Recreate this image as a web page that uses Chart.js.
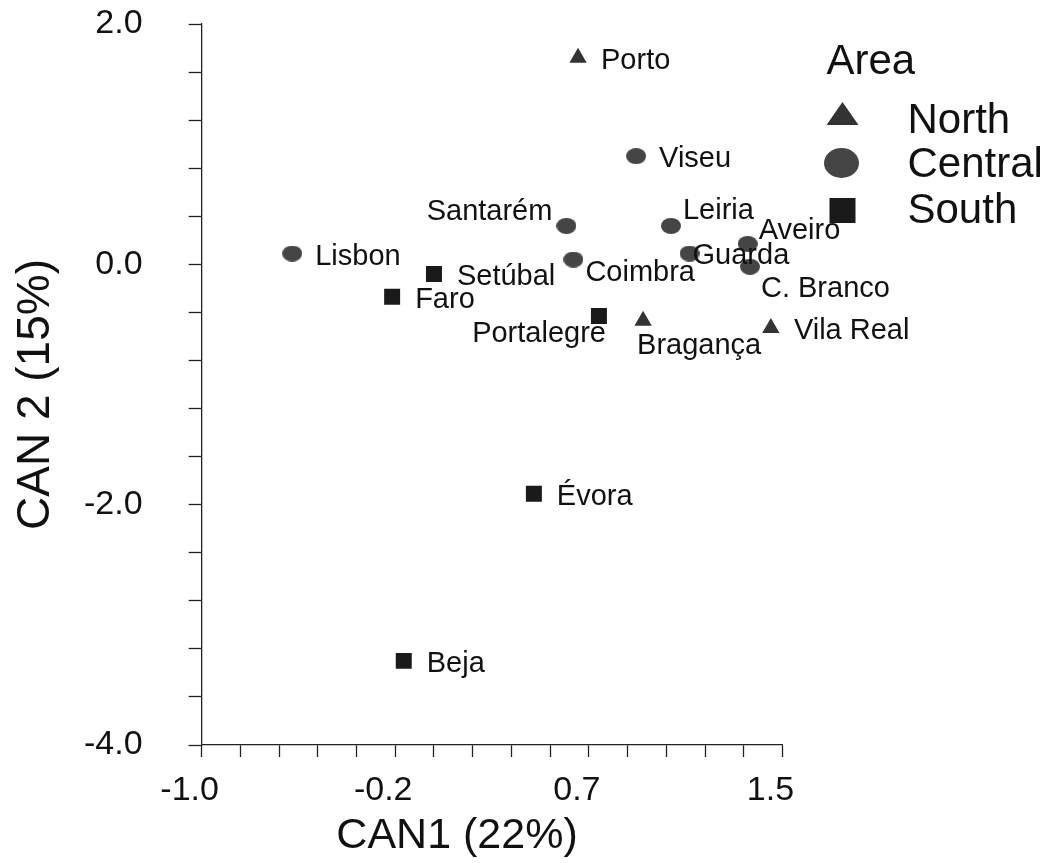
<!DOCTYPE html>
<html lang="en">
<head>
    <meta charset="UTF-8">
    <title>CAN1 / CAN2</title>
    <script src="https://cdn.jsdelivr.net/npm/chart.js"></script>
    <style>
        body { margin: 0; background: #fff; }
        #wrap { width: 1050px; height: 863px; }
    </style>
</head>
<body>
    <div id="wrap"><canvas id="graphique" width="1050" height="863"></canvas></div>

    <script>
        // scores, one group per area
        const northNames = ['Porto', 'Bragança', 'Vila Real'];
        const northCan1 = [0.62, 0.90, 1.45];
        const northCan2 = [1.72, -0.47, -0.53];

        const centralNames = ['Viseu', 'Santarém', 'Leiria', 'Aveiro', 'Guarda', 'C. Branco', 'Lisbon', 'Coimbra'];
        const centralCan1 = [0.87, 0.57, 1.02, 1.35, 1.10, 1.36, -0.61, 0.60];
        const centralCan2 = [0.90, 0.32, 0.32, 0.17, 0.09, -0.02, 0.09, 0.04];

        const southNames = ['Setúbal', 'Faro', 'Portalegre', 'Évora', 'Beja'];
        const southCan1 = [0.00, -0.18, 0.71, 0.43, -0.13];
        const southCan2 = [-0.08, -0.27, -0.43, -1.91, -3.30];

        // axis ticks (the x ones are thirds of the range, printed rounded)
        const xTicks = [-1.0, -0.8333, -0.6667, -0.5, -0.3333, -0.1667, 0.0, 0.1667, 0.3333, 0.5, 0.6667, 0.8333, 1.0, 1.1667, 1.3333, 1.5];
        const xMajor = [-1.0, -0.1667, 0.6667, 1.5];
        const xMajorLabels = ['-1.0', '-0.2', '0.7', '1.5'];
        const yTicks = [-4.0, -3.6, -3.2, -2.8, -2.4, -2.0, -1.6, -1.2, -0.8, -0.4, 0.0, 0.4, 0.8, 1.2, 1.6, 2.0];
        const yMajor = [-4.0, -2.0, 0.0, 2.0];
        const yMajorLabels = ['-4.0', '-2.0', '0.0', '2.0'];

        const areaNames = ['North', 'Central', 'South'];
        const xTitle = 'CAN1 (22%)';
        const yTitle = 'CAN 2 (15%)';

        const FONT = '"Liberation Sans", Arial, Helvetica, sans-serif';
        const INK = '#111';
        const AXIS = '#222';
        const colTri = '#333333';
        const colDot = '#454545';
        const colSq = '#1a1a1a';

        Chart.defaults.font.family = FONT;
        Chart.defaults.color = INK;

        function points(names, xs, ys) {
            return names.map((n, i) => ({ x: xs[i], y: ys[i], name: n }));
        }

        // the dots in the figure are slightly flattened, so use a small canvas as point style
        function ellipseStyle(w, h, color) {
            const c = document.createElement('canvas');
            c.width = w;
            c.height = h;
            const g = c.getContext('2d');
            g.fillStyle = color;
            g.beginPath();
            g.ellipse(w / 2, h / 2, w / 2, h / 2, 0, 0, Math.PI * 2);
            g.fill();
            return c;
        }

        function pickLabel(value, major, labels) {
            const i = major.findIndex(m => Math.abs(m - value) < 1e-3);
            return i >= 0 ? labels[i] : '';
        }

        // where each name sits next to its marker (default: to the right)
        const labelPlacement = {
            'Santarém':   { dx: -14, dy: -14, align: 'right' },
            'Leiria':     { dx: 12,  dy: -15, align: 'left' },
            'Aveiro':     { dx: 11,  dy: -13, align: 'left' },
            'Guarda':     { dx: 3,   dy: 2,   align: 'left' },
            'C. Branco':  { dx: 11,  dy: 22,  align: 'left' },
            'Coimbra':    { dx: 12,  dy: 13,  align: 'left' },
            'Portalegre': { dx: 7,   dy: 18,  align: 'right' },
            'Bragança':   { dx: -6,  dy: 25,  align: 'left' }
        };

        const pointLabels = {
            id: 'pointLabels',
            afterDatasetsDraw(chart) {
                const ctx = chart.ctx;
                ctx.save();
                ctx.font = '29px ' + FONT;
                ctx.fillStyle = INK;
                ctx.textBaseline = 'middle';
                chart.data.datasets.forEach((ds, i) => {
                    chart.getDatasetMeta(i).data.forEach((el, j) => {
                        const name = ds.data[j].name;
                        const p = labelPlacement[name] || { dx: 23, dy: 3, align: 'left' };
                        ctx.textAlign = p.align;
                        ctx.fillText(name, el.x + p.dx, el.y + p.dy);
                    });
                });
                ctx.restore();
            }
        };

        // axis titles, drawn by hand because they sit off-centre in the figure
        const axisTitles = {
            id: 'axisTitles',
            afterDraw(chart) {
                const ctx = chart.ctx;
                const a = chart.chartArea;
                ctx.save();
                ctx.fillStyle = INK;
                ctx.textAlign = 'center';
                ctx.textBaseline = 'middle';
                ctx.font = '43px ' + FONT;
                ctx.fillText(xTitle, (a.left + a.right) / 2 - 35, 836);
                ctx.translate(36, (a.top + a.bottom) / 2 + 10);
                ctx.rotate(-Math.PI / 2);
                ctx.font = '46px ' + FONT;
                ctx.fillText(yTitle, 0, 0);
                ctx.restore();
            }
        };

        // legend "Area" block in the upper right
        const areaLegend = {
            id: 'areaLegend',
            afterDraw(chart) {
                const ctx = chart.ctx;
                const x0 = chart.chartArea.right + 60;
                ctx.save();
                ctx.font = '42px ' + FONT;
                ctx.fillStyle = INK;
                ctx.textAlign = 'left';
                ctx.textBaseline = 'middle';
                ctx.fillText('Area', x0 - 16, 62);

                const rows = [121, 165, 211];
                rows.forEach((y, i) => {
                    ctx.fillText(areaNames[i], x0 + 65, y);
                });

                // triangle
                ctx.fillStyle = colTri;
                ctx.beginPath();
                ctx.moveTo(x0, 102);
                ctx.lineTo(x0 + 16, 125);
                ctx.lineTo(x0 - 16, 125);
                ctx.closePath();
                ctx.fill();
                // dot
                ctx.fillStyle = colDot;
                ctx.beginPath();
                ctx.ellipse(x0 - 1, 163, 17.5, 15, 0, 0, Math.PI * 2);
                ctx.fill();
                // square
                ctx.fillStyle = colSq;
                ctx.fillRect(x0 - 13, 198, 26, 25);
                ctx.restore();
            }
        };

        const ctx = document.getElementById('graphique').getContext('2d');

        const myChart = new Chart(ctx, {
            type: 'scatter',
            data: {
                datasets: [
                    {
                        label: areaNames[0],
                        data: points(northNames, northCan1, northCan2),
                        pointStyle: 'triangle',
                        pointRadius: 10,
                        backgroundColor: colTri,
                        borderWidth: 0
                    },
                    {
                        label: areaNames[1],
                        data: points(centralNames, centralCan1, centralCan2),
                        pointStyle: ellipseStyle(20, 16, colDot),
                        pointRadius: 10,
                        backgroundColor: colDot,
                        borderWidth: 0
                    },
                    {
                        label: areaNames[2],
                        data: points(southNames, southCan1, southCan2),
                        pointStyle: 'rect',
                        pointRadius: 11.3,
                        backgroundColor: colSq,
                        borderWidth: 0
                    }
                ]
            },
            options: {
                responsive: false,
                animation: false,
                events: [],
                layout: { padding: { left: 0, right: 267.5, top: 24, bottom: 0 } },
                plugins: {
                    legend: { display: false },
                    tooltip: { enabled: false }
                },
                scales: {
                    x: {
                        type: 'linear',
                        min: -1,
                        max: 1.5,
                        afterBuildTicks: s => { s.ticks = xTicks.map(v => ({ value: v })); },
                        afterFit: s => { s.height = 118; },
                        ticks: {
                            autoSkip: false,
                            maxRotation: 0,
                            padding: 13,
                            labelOffset: -12,
                            color: INK,
                            font: { size: 34 },
                            callback: v => pickLabel(v, xMajor, xMajorLabels)
                        },
                        grid: { drawOnChartArea: false, tickLength: 12, color: AXIS, tickWidth: 1.3 },
                        border: { color: AXIS, width: 1.3 }
                    },
                    y: {
                        type: 'linear',
                        min: -4,
                        max: 2,
                        afterBuildTicks: s => { s.ticks = yTicks.map(v => ({ value: v })); },
                        // keep the wide label gap from pushing the plot down
                        afterFit: s => { s.width = 201.6; s.paddingTop = 20; s.paddingBottom = 20; },
                        ticks: {
                            autoSkip: false,
                            padding: 46,
                            color: INK,
                            font: { size: 34 },
                            callback: v => pickLabel(v, yMajor, yMajorLabels)
                        },
                        grid: { drawOnChartArea: false, tickLength: 13, color: AXIS, tickWidth: 1.3 },
                        border: { color: AXIS, width: 1.3 }
                    }
                }
            },
            plugins: [pointLabels, axisTitles, areaLegend]
        });
    </script>
</body>
</html>
